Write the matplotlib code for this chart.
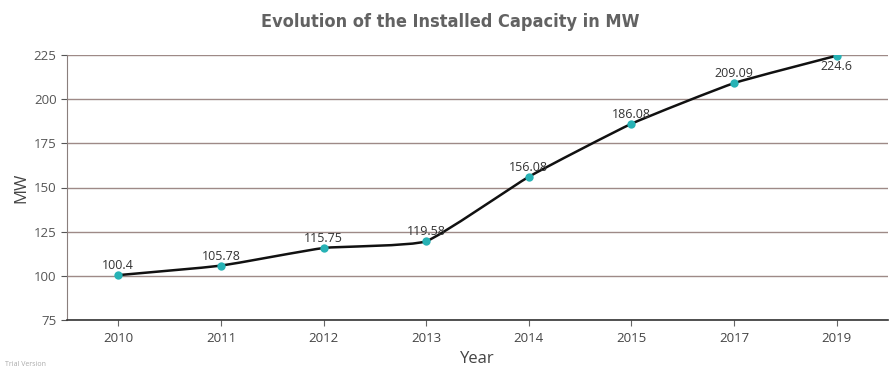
import numpy as np
import matplotlib.pyplot as plt
from matplotlib.path import Path
from matplotlib.patches import PathPatch

years = ['2010', '2011', '2012', '2013', '2014', '2015', '2017', '2019']
capacity = [100.4, 105.78, 115.75, 119.58, 156.08, 186.08, 209.09, 224.6]
yticks = [75, 100, 125, 150, 175, 200, 225]

plt.rcParams['font.family'] = ['Open Sans', 'DejaVu Sans']

fig = plt.figure(figsize=(8.91, 3.70), dpi=100)
ax = fig.add_axes([67 / 891, 50 / 370, 821 / 891, 265 / 370])

x = np.arange(len(years))
y = np.array(capacity)

# lightly smoothed line: bezier segments with small tension
k = 0.07
verts, codes = [(x[0], y[0])], [Path.MOVETO]
for i in range(len(x) - 1):
    p0 = np.array([x[max(i - 1, 0)], y[max(i - 1, 0)]])
    p1 = np.array([x[i], y[i]])
    p2 = np.array([x[i + 1], y[i + 1]])
    p3 = np.array([x[min(i + 2, len(x) - 1)], y[min(i + 2, len(x) - 1)]])
    c1 = p1 + (p2 - p0) * k
    c2 = p2 - (p3 - p1) * k
    verts += [tuple(c1), tuple(c2), tuple(p2)]
    codes += [Path.CURVE4] * 3
ax.add_patch(PathPatch(Path(verts, codes), facecolor='none', edgecolor='#111111',
                       lw=1.8, zorder=3))
ax.plot(x, y, 'o', color='#27b2b5', ms=6, zorder=4, mec='none')

for xi, yi in zip(x, y):
    if yi == y[-1]:
        ax.annotate(f'{yi:g}', (xi, yi), xytext=(0, -3), textcoords='offset points',
                    ha='center', va='top', fontsize=9, color='#333333', zorder=5)
    else:
        ax.annotate(f'{yi:g}', (xi, yi), xytext=(0, 2), textcoords='offset points',
                    ha='center', va='bottom', fontsize=9, color='#333333', zorder=5)

ax.set_xlim(-0.5, len(years) - 0.5)
ax.set_ylim(75, 225)
ax.set_xticks(x)
ax.set_xticklabels(years)
ax.set_yticks(yticks)
ax.tick_params(axis='both', labelsize=9.5, colors='#555555', length=4, width=0.8)
ax.tick_params(axis='x', colors='#666666', labelcolor='#444444', pad=5)
ax.grid(axis='y', color='#9e8a87', lw=1)
ax.set_axisbelow(True)
for s in ['top', 'right']:
    ax.spines[s].set_visible(False)
ax.spines['left'].set_color('#8a7f7d')
ax.spines['bottom'].set_color('#333333')
ax.spines['bottom'].set_linewidth(1.2)

ax.set_ylabel('MW', fontsize=12, color='#444444', labelpad=3)
ax.set_xlabel('Year', fontsize=12, color='#444444', labelpad=4)

fig.text(0.505, 0.94, 'Evolution of the Installed Capacity in MW', ha='center', va='center',
         fontsize=13, fontweight='heavy', fontstretch='condensed', color='#626262',
         family=['DejaVu Sans'])
fig.text(0.006, 0.012, 'Trial Version', fontsize=5, color='#aaaaaa')

fig.savefig('out.png', dpi=100)
